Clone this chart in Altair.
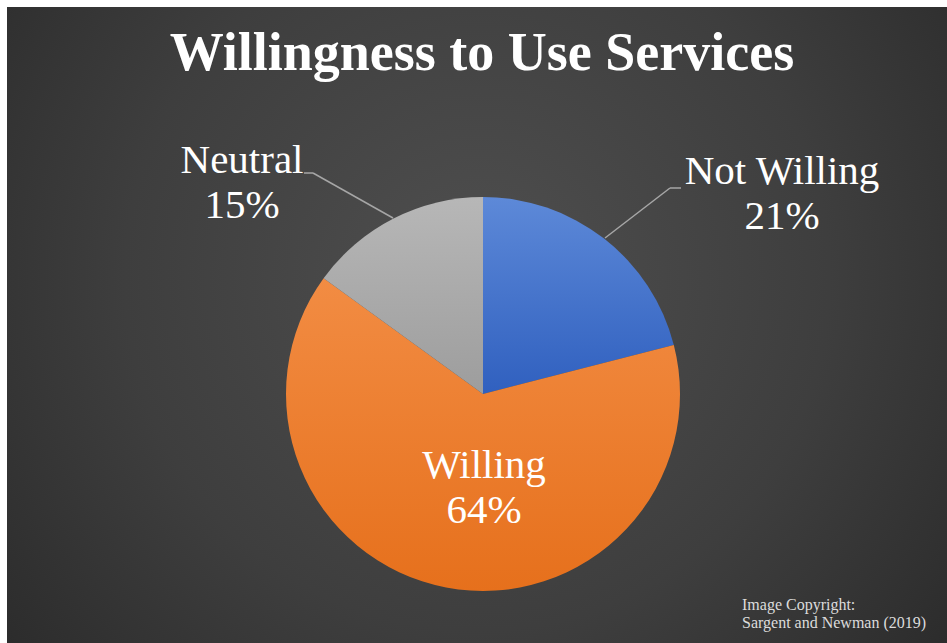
import altair as alt
import pandas as pd

# ---- data ----
categories = ["Not Willing", "Willing", "Neutral"]
percents = [21, 64, 15]
slice_order = [0, 1, 2]
title_text = "Willingness to Use Services"
credit_lines = ["Image Copyright:", "Sargent and Newman (2019)"]

# gradient colours per slice (top -> bottom)
slice_top = ["#5d89d8", "#f28c43", "#b7b7b7"]
slice_bottom = ["#3060bf", "#e6701c", "#9d9d9d"]

W, H = 947, 643
CX, CY, R = 483, 394, 197
SERIF = "'Times New Roman', 'Liberation Serif', 'DejaVu Serif', serif"

df = pd.DataFrame({"category": categories, "value": percents, "order": slice_order})
df["label"] = [f"{c}\n{v}%" for c, v in zip(categories, percents)]

one = alt.Data(values=[{}])

# background panel with radial gradient
bg = alt.Chart(one).mark_rect(
    fill=alt.RadialGradient(
        gradient="radial",
        stops=[alt.GradientStop(color="#4f4f4f", offset=0),
               alt.GradientStop(color="#3e3e3e", offset=0.5),
               alt.GradientStop(color="#242424", offset=1)],
        x1=0.5, y1=0.45, r1=0, x2=0.5, y2=0.45, r2=0.75),
).encode(x=alt.value(7), x2=alt.value(W), y=alt.value(7), y2=alt.value(H))

base = alt.Chart(df).transform_stack(
    stack="value", groupby=[], as_=["v0", "v1"],
    sort=[alt.SortField("order", order="ascending")],
)

theta_scale = alt.Scale(domain=[0, 100], range=[0, 6.283185307179586])

slices = []
for cat, top, bot in zip(categories, slice_top, slice_bottom):
    s = base.transform_filter(alt.datum.category == cat).mark_arc(
        outerRadius=R,
        fill=alt.LinearGradient(
            gradient="linear",
            stops=[alt.GradientStop(color=top, offset=0),
                   alt.GradientStop(color=bot, offset=1)],
            x1=0, y1=0, x2=0, y2=1),
    ).encode(
        theta=alt.Theta("v0:Q", scale=theta_scale),
        theta2="v1:Q",
        x=alt.value(CX), y=alt.value(CY),
    )
    slices.append(s)

# leader lines
line_col = "#a6a6a6"
def seg(x1, y1, x2, y2):
    return alt.Chart(one).mark_rule(color=line_col, strokeWidth=1.5).encode(
        x=alt.value(x1), y=alt.value(y1), x2=alt.value(x2), y2=alt.value(y2))

leaders = [seg(605, 238, 670, 188), seg(670, 188, 681, 188),
           seg(393, 218, 313, 173), seg(313, 173, 304, 173)]

# slice labels
label_pos = {"Not Willing": (782, 184), "Willing": (484, 478), "Neutral": (242, 173)}
labels = []
for cat in categories:
    lx, ly = label_pos[cat]
    t = alt.Chart(df).transform_filter(alt.datum.category == cat).mark_text(
        font=SERIF, fontSize=41, color="white", align="center",
        baseline="alphabetic", lineBreak="\n", lineHeight=45,
    ).encode(text="label:N", x=alt.value(lx), y=alt.value(ly))
    labels.append(t)

title = alt.Chart(one).mark_text(
    text=title_text, font=SERIF, fontSize=54, fontWeight="bold", color="white",
    align="center", baseline="alphabetic",
).encode(x=alt.value(482), y=alt.value(70))

credit = alt.Chart(one).mark_text(
    text=credit_lines, font=SERIF, fontSize=16, color="#dcdcdc",
    align="left", baseline="alphabetic", lineHeight=18,
).encode(x=alt.value(742), y=alt.value(610))

chart = alt.layer(bg, *slices, *leaders, *labels, title, credit).properties(
    width=W, height=H, padding=0, background="white",
    autosize=alt.AutoSizeParams(type="none"),
).configure_view(stroke=None)

chart.save("out.html", embed_options={"renderer": "svg", "actions": False})
